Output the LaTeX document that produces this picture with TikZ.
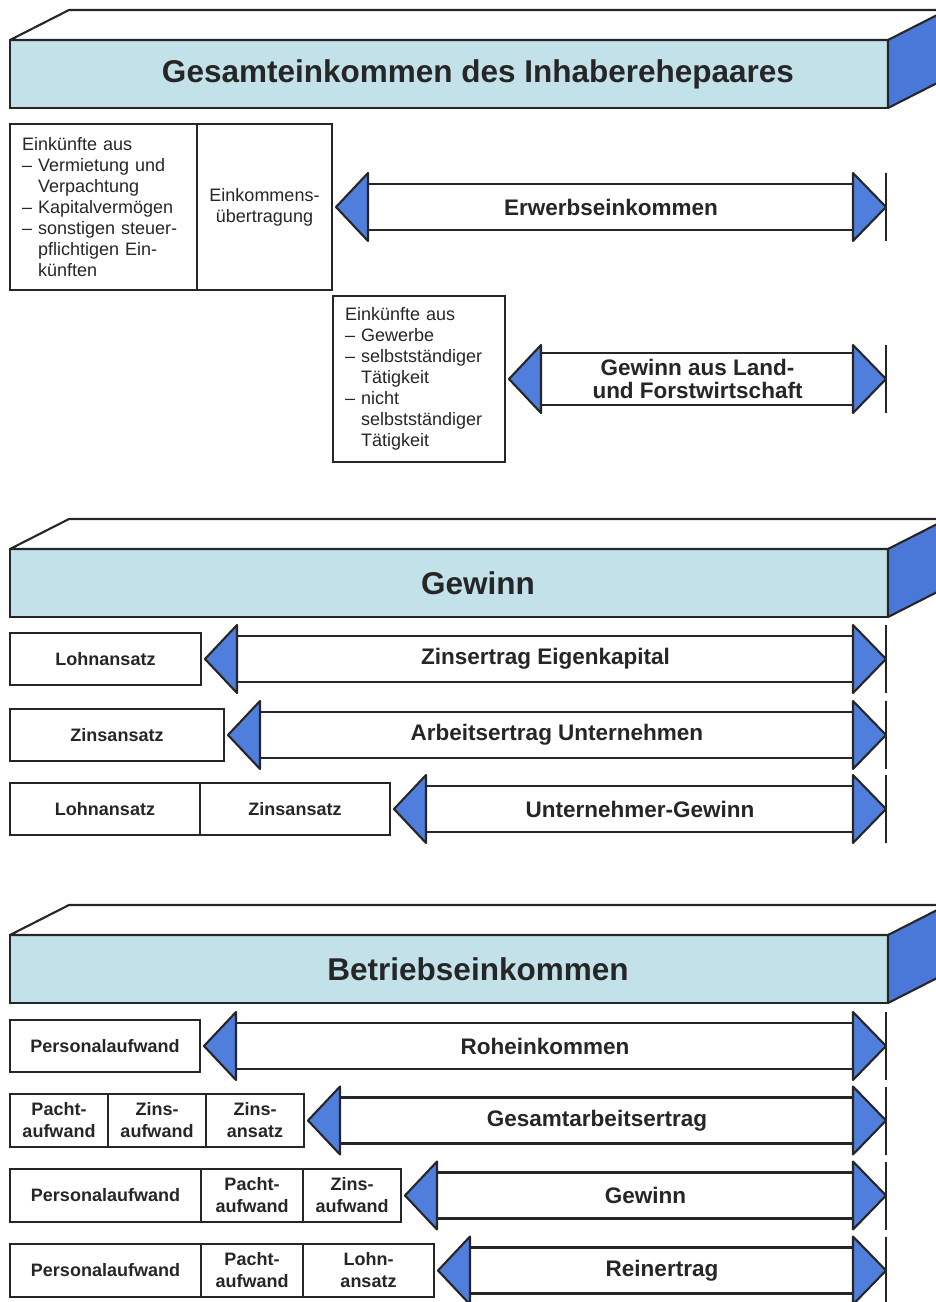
\documentclass[tikz,border=0pt]{standalone}
\usepackage{fontspec}
\setmainfont{Liberation Sans}
\usepackage{xcolor}
\usepackage{tikz}
\usetikzlibrary{positioning,calc}
\definecolor{barface}{HTML}{C2E1E9}
\definecolor{barside}{HTML}{4A78D8}
\definecolor{headblue}{HTML}{4F7EDC}
\definecolor{inkgray}{HTML}{262626}
\tikzset{
    outline/.style={draw=inkgray, line width=2.1pt},
    cell/.style={outline, fill=white, inner sep=0pt, outer sep=0pt, align=center, text=inkgray, font=\fontsize{18}{22}\selectfont\bfseries},
    notecell/.style={outline, fill=white, inner sep=0pt, outer sep=0pt, align=left, text=inkgray, font=\fontsize{18}{21}\selectfont},
    barfront/.style={outline, fill=barface, minimum width=878pt, minimum height=68pt, inner sep=0pt, outer sep=0pt},
    bartitle/.style={text=inkgray, font=\fontsize{31.5}{36}\selectfont\bfseries},
    spanlabel/.style={text=inkgray, align=center, font=\fontsize{22.5}{23}\selectfont\bfseries}
}
\newcommand{\headbar}[3]{
    \node[barfront, anchor=north west] (#1) at (10,#2) {};
    \draw[outline, fill=white, line join=round] (#1.north west) -- ++(59,-30) -- ++(900,0) -- (#1.north east) -- cycle;
    \draw[outline, fill=barside, line join=round] (#1.north east) -- ++(59,-30) -- ++(0,68) -- (#1.south east) -- cycle;
    \node[bartitle] (#1-title) at ($(#1.center)+(29,0)$) {#3};
}
\newcommand{\spanarrow}[4][23]{
    \coordinate (#3-l) at ($(#2.east)+(4,0)$);
    \coordinate (#3-r) at (#2.east -| rim);
    \draw[outline] ($(#3-l)+(32,-#1)$) -- ($(#3-r)+(-33,-#1)$) ($(#3-l)+(32,#1)$) -- ($(#3-r)+(-33,#1)$);
    \draw[outline, fill=headblue, line join=round] (#3-l) -- ++(32,-34) -- ++(0,68) -- cycle;
    \draw[outline, fill=headblue, line join=round] (#3-r) -- ++(-33,-34) -- ++(0,68) -- cycle;
    \draw[draw=inkgray, line width=1.8pt] ($(#3-r)+(0,-34)$) -- ($(#3-r)+(0,34)$);
    \node[spanlabel] (#3) at ($(#3-l)!0.5!(#3-r)$) {#4};
}

\begin{document}
\begin{tikzpicture}[x=1pt,y=-1pt]
    \useasboundingbox (0,0) rectangle (936,1302);
    \clip (0,0) rectangle (936,1302);
    \fill[white] (0,0) rectangle (936,1302);
    \coordinate (rim) at (886,0);

    \headbar{gesbar}{40}{Gesamteinkommen des Inhaberehepaares}
    \node[notecell, anchor=north west, minimum width=187pt, minimum height=166pt, text width=163pt] (privinc) at (10,124) {Einkünfte aus\\– Vermietung und\\\hphantom{– }Verpachtung\\– Kapitalvermögen\\– sonstigen steuer-\\\hphantom{– }pflichtigen Ein-\\\hphantom{– }künften};
    \node[notecell, align=center, right=0pt of privinc, minimum width=135pt, minimum height=166pt] (transfer) {Einkommens-\\übertragung};
    \spanarrow{transfer}{erwerb}{Erwerbseinkommen}
    \node[notecell, anchor=north west, minimum width=172pt, minimum height=166pt, text width=148pt] (bizinc) at (333,296) {Einkünfte aus\\– Gewerbe\\– selbstständiger\\\hphantom{– }Tätigkeit\\– nicht\\\hphantom{– }selbstständiger\\\hphantom{– }Tätigkeit};
    \spanarrow[26]{bizinc}{landforst}{Gewinn aus Land-\\und Forstwirtschaft}

    \headbar{gewbar}{549}{Gewinn}
    \node[cell, anchor=north west, minimum width=191pt, minimum height=52pt] (lohnA) at (10,633) {Lohnansatz};
    \spanarrow{lohnA}{zinsek}{Zinsertrag Eigenkapital}
    \node[cell, anchor=north west, minimum width=214pt, minimum height=52pt] (zinsA) at (10,709) {Zinsansatz};
    \spanarrow{zinsA}{arbunt}{Arbeitsertrag Unternehmen}
    \node[cell, anchor=north west, minimum width=190pt, minimum height=52pt] (lohnB) at (10,783) {Lohnansatz};
    \node[cell, right=0pt of lohnB, minimum width=190pt, minimum height=52pt] (zinsB) {Zinsansatz};
    \spanarrow{zinsB}{untgew}{Unternehmer-Gewinn}

    \headbar{betrbar}{935}{Betriebseinkommen}
    \node[cell, anchor=north west, minimum width=190pt, minimum height=52pt] (persA) at (10,1020) {Personalaufwand};
    \spanarrow{persA}{rohek}{Roheinkommen}
    \node[cell, anchor=north west, minimum width=98pt, minimum height=53pt] (pachtA) at (10,1094) {Pacht-\\aufwand};
    \node[cell, right=0pt of pachtA, minimum width=98pt, minimum height=53pt] (zinsaufA) {Zins-\\aufwand};
    \node[cell, right=0pt of zinsaufA, minimum width=98pt, minimum height=53pt] (zinsansC) {Zins-\\ansatz};
    \spanarrow{zinsansC}{gesarb}{Gesamtarbeitsertrag}
    \node[cell, anchor=north west, minimum width=191pt, minimum height=53pt] (persB) at (10,1169) {Personalaufwand};
    \node[cell, right=0pt of persB, minimum width=102pt, minimum height=53pt] (pachtB) {Pacht-\\aufwand};
    \node[cell, right=0pt of pachtB, minimum width=98pt, minimum height=53pt] (zinsaufB) {Zins-\\aufwand};
    \spanarrow{zinsaufB}{gewrow}{Gewinn}
    \node[cell, anchor=north west, minimum width=191pt, minimum height=53pt] (persC) at (10,1244) {Personalaufwand};
    \node[cell, right=0pt of persC, minimum width=102pt, minimum height=53pt] (pachtC) {Pacht-\\aufwand};
    \node[cell, right=0pt of pachtC, minimum width=131pt, minimum height=53pt] (lohnC) {Lohn-\\ansatz};
    \spanarrow{lohnC}{reinert}{Reinertrag}
\end{tikzpicture}
\end{document}
